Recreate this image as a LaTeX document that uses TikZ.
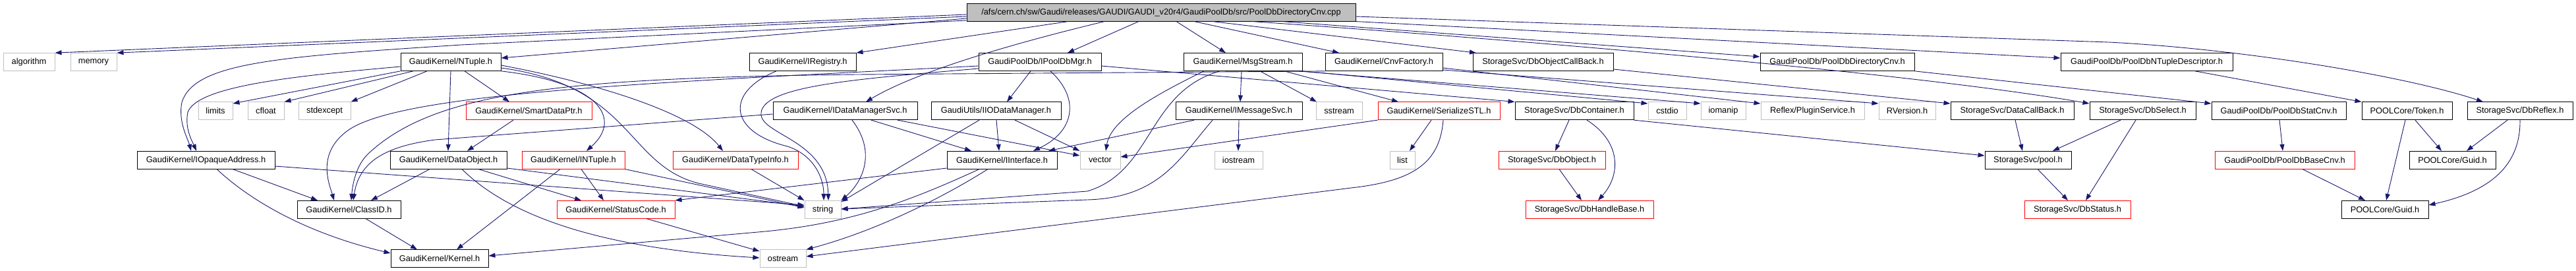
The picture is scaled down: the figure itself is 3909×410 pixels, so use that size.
\documentclass[tikz,border=0pt]{standalone}
\usepackage{fontspec}
\setmainfont{Liberation Sans}
\usetikzlibrary{arrows.meta}
\definecolor{edgeblue}{HTML}{191970}
\definecolor{greyseventyfive}{HTML}{BFBFBF}
\tikzset{
  box/.style={draw, line width=1pt, minimum height=26.7pt, inner sep=0pt, anchor=center,
              font=\fontsize{12.8}{14}\selectfont, text=black},
  bk/.style={box, draw=black},
  rd/.style={box, draw=red},
  gy/.style={box, draw=greyseventyfive},
  lnk/.style={draw=edgeblue, line width=0.9pt, -{Triangle[length=10pt,width=7pt]}, fill=none},
}
\begin{document}
\begin{tikzpicture}[x=1pt,y=-1pt]
\useasboundingbox (0,0) rectangle (3909,410);
% root
\node[bk, fill=greyseventyfive, minimum width=590pt] (root) at (1762,18.7) {/afs/cern.ch/sw/Gaudi/releases/GAUDI/GAUDI\_v20r4/GaudiPoolDb/src/PoolDbDirectoryCnv.cpp};
% row 1
\node[gy, minimum width=78pt] (algorithm) at (44,94) {algorithm};
\node[gy, minimum width=70pt] (memory) at (142,94) {memory};
\node[bk, minimum width=152pt] (ntuple) at (684,94) {GaudiKernel/NTuple.h};
\node[bk, minimum width=162pt] (iregistry) at (1218,94) {GaudiKernel/IRegistry.h};
\node[bk, minimum width=186pt] (ipooldbmgr) at (1578,94) {GaudiPoolDb/IPoolDbMgr.h};
\node[bk, minimum width=180pt] (msgstream) at (1886,94) {GaudiKernel/MsgStream.h};
\node[bk, minimum width=178pt] (cnvfactory) at (2100,94) {GaudiKernel/CnvFactory.h};
\node[bk, minimum width=213pt] (dbobjcb) at (2341.5,94) {StorageSvc/DbObjectCallBack.h};
\node[bk, minimum width=234pt] (dircnv) at (2788,94) {GaudiPoolDb/PoolDbDirectoryCnv.h};
\node[bk, minimum width=261pt] (ntdesc) at (3257.5,94) {GaudiPoolDb/PoolDbNTupleDescriptor.h};
% row 2
\node[gy, minimum width=52pt] (limits) at (327,168.3) {limits};
\node[gy, minimum width=55pt] (cfloat) at (403.5,168.3) {cfloat};
\node[gy, minimum width=79pt] (stdexcept) at (492.5,168.3) {stdexcept};
\node[rd, minimum width=191pt] (smartptr) at (802.5,168.3) {GaudiKernel/SmartDataPtr.h};
\node[bk, minimum width=219pt] (idatamgr) at (1282.5,168.3) {GaudiKernel/IDataManagerSvc.h};
\node[bk, minimum width=197pt] (iiodata) at (1511.5,168.3) {GaudiUtils/IIODataManager.h};
\node[bk, minimum width=192pt] (imsgsvc) at (1880,168.3) {GaudiKernel/IMessageSvc.h};
\node[gy, minimum width=70pt] (sstream) at (2032,168.3) {sstream};
\node[rd, minimum width=185pt] (serial) at (2183.5,168.3) {GaudiKernel/SerializeSTL.h};
\node[bk, minimum width=180pt] (dbcont) at (2389,168.3) {StorageSvc/DbContainer.h};
\node[gy, minimum width=58pt] (cstdio) at (2530,168.3) {cstdio};
\node[gy, minimum width=68pt] (iomanip) at (2615,168.3) {iomanip};
\node[gy, minimum width=157pt] (plugin) at (2750.5,168.3) {Reflex/PluginService.h};
\node[gy, minimum width=86pt] (rversion) at (2894,168.3) {RVersion.h};
\node[bk, minimum width=187pt] (datacb) at (3053.5,168.3) {StorageSvc/DataCallBack.h};
\node[bk, minimum width=161pt] (dbselect) at (3251.5,168.3) {StorageSvc/DbSelect.h};
\node[bk, minimum width=204pt] (statcnv) at (3458,168.3) {GaudiPoolDb/PoolDbStatCnv.h};
\node[bk, minimum width=137pt] (token) at (3652.5,168.3) {POOLCore/Token.h};
\node[bk, minimum width=160pt] (dbreflex) at (3824,168.3) {StorageSvc/DbReflex.h};
% row 3
\node[bk, minimum width=209pt] (iopaque) at (312.5,242.7) {GaudiKernel/IOpaqueAddress.h};
\node[bk, minimum width=177pt] (dataobj) at (680.5,242.7) {GaudiKernel/DataObject.h};
\node[rd, minimum width=156pt] (intuple) at (870,242.7) {GaudiKernel/INTuple.h};
\node[rd, minimum width=190pt] (dtinfo) at (1116,242.7) {GaudiKernel/DataTypeInfo.h};
\node[bk, minimum width=167pt] (iinterface) at (1520.5,242.7) {GaudiKernel/IInterface.h};
\node[gy, minimum width=61pt] (vector) at (1669.5,242.7) {vector};
\node[gy, minimum width=73pt] (iostream) at (1879.5,242.7) {iostream};
\node[gy, minimum width=38pt] (list) at (2128,242.7) {list};
\node[rd, minimum width=162pt] (dbobject) at (2355,242.7) {StorageSvc/DbObject.h};
\node[bk, minimum width=131pt] (pool) at (3077.5,242.7) {StorageSvc/pool.h};
\node[rd, minimum width=212pt] (basecnv) at (3467,242.7) {GaudiPoolDb/PoolDbBaseCnv.h};
\node[bk, minimum width=131pt] (guidA) at (3721.5,242.7) {POOLCore/Guid.h};
% row 4
\node[bk, minimum width=157pt] (classid) at (529.5,317.8) {GaudiKernel/ClassID.h};
\node[rd, minimum width=179pt] (statuscode) at (934.5,317.8) {GaudiKernel/StatusCode.h};
\node[gy, minimum width=55pt] (string) at (1248.5,317.8) {string};
\node[rd, minimum width=194pt] (dbhandle) at (2412,317.8) {StorageSvc/DbHandleBase.h};
\node[rd, minimum width=161pt] (dbstatus) at (3152.5,317.8) {StorageSvc/DbStatus.h};
\node[bk, minimum width=132pt] (guidB) at (3619,317.8) {POOLCore/Guid.h};
% row 5
\node[bk, minimum width=148pt] (kernel) at (667,392.3) {GaudiKernel/Kernel.h};
\node[gy, minimum width=70pt] (ostream) at (1188,392.3) {ostream};

% ---- edges from root
\draw[lnk] (root.west |- 0,22) -- (algorithm.north east);
\draw[lnk] (root.west |- 0,25) -- (memory.north east);
\draw[lnk] (root.west |- 0,28) -- (ntuple.east |- 0,88);
\draw[lnk] (root.west |- 0,31) -- (700,68) .. controls (420,86) and (295,95) .. (276,155) .. controls (270,185) and (285,210) .. (iopaque.north -| 290,0);
\draw[lnk] (root.south -| 1621,0) -- (iregistry.north east);
\draw[lnk] (root.south -| 1676,0) .. controls (1500,75) and (1380,115) .. (idatamgr.north -| 1314,0);
\draw[lnk] (root.south -| 1728,0) -- (ipooldbmgr.north -| 1620,0);
\draw[lnk] (root.south -| 1785,0) -- (msgstream.north -| 1860,0);
\draw[lnk] (root.south -| 1812,0) -- (cnvfactory.north -| 2032,0);
\draw[lnk] (root.south -| 1840,0) -- (dbobjcb.north -| 2240,0);
\draw[lnk] (root.south -| 1900,0) .. controls (2300,60) and (2900,110) .. (dbselect.west |- 0,157);
\draw[lnk] (root.south -| 1945,0) -- (dircnv.west |- 0,86);
\draw[lnk] (root.south east) -- (ntdesc.west |- 0,88);
\draw[lnk] (root.east |- 0,25) -- (3200,64) .. controls (3400,74) and (3650,115) .. (dbreflex.north -| 3768,0);

% ---- NTuple
\draw[lnk] (ntuple.west |- 0,101) .. controls (450,115) and (300,130) .. (285,170) .. controls (280,195) and (292,215) .. (iopaque.north -| 298,0);
\draw[lnk] (ntuple.south west) -- (limits.east |- 0,157);
\draw[lnk] (ntuple.south -| 627,0) -- (cfloat.north east);
\draw[lnk] (ntuple.south -| 648,0) -- (stdexcept.north east);
\draw[lnk] (ntuple.south -| 705,0) -- (smartptr.north -| 773,0);
\draw[lnk] (ntuple.south -| 684,0) -- (dataobj.north -| 680,0);
\draw[lnk] (ntuple.south east) .. controls (910,125) and (945,180) .. (intuple.north -| 890,0);
\draw[lnk] (ntuple.east |- 0,99) .. controls (900,125) and (1050,170) .. (dtinfo.north -| 1097,0);
\draw[lnk] (ntuple.east |- 0,103) .. controls (960,130) and (950,250) .. (1060,278) -- (string.west |- 0,313);

% ---- IRegistry
\draw[lnk] (iregistry.south -| 1178,0) .. controls (1100,140) and (1105,200) .. (1195,222) .. controls (1235,235) and (1250,270) .. (string.north -| 1250,0);

% ---- IPoolDbMgr
\draw[lnk] (ipooldbmgr.south -| 1564,0) -- (iiodata.north -| 1528,0);
\draw[lnk] (ipooldbmgr.south -| 1594,0) .. controls (1640,150) and (1630,200) .. (iinterface.north -| 1568,0);
\draw[lnk] (ipooldbmgr.east |- 0,100) -- (dbcont.north west);
\draw[lnk] (ipooldbmgr.west |- 0,100) .. controls (1000,125) and (600,140) .. (525,200) .. controls (480,235) and (500,280) .. (classid.north -| 507,0);
\draw[lnk] (ipooldbmgr.west |- 0,104) .. controls (1300,120) and (1150,130) .. (1155,175) .. controls (1160,205) and (1255,215) .. (string.north -| 1257,0);

% ---- CnvFactory
\draw[lnk] (cnvfactory.south west) -- (1300,113) .. controls (850,118) and (660,140) .. (560,232) .. controls (540,250) and (535,280) .. (classid.north -| 533,0);
\draw[lnk] (cnvfactory.east |- 0,103) -- (plugin.west |- 0,157);
\draw[lnk] (cnvfactory.east |- 0,106) -- (rversion.west |- 0,157);

% ---- DbObjectCallBack
\draw[lnk] (dbobjcb.east |- 0,105) -- (datacb.west |- 0,157);

% ---- IDataManagerSvc
\draw[lnk] (idatamgr.west |- 0,173) -- (660,212) .. controls (585,222) and (545,245) .. (classid.north -| 536,0);
\draw[lnk] (idatamgr.south -| 1322,0) -- (iinterface.north -| 1474,0);
\draw[lnk] (idatamgr.south -| 1362,0) -- (vector.west |- 0,236);
\draw[lnk] (idatamgr.south -| 1293,0) .. controls (1330,230) and (1310,275) .. (string.north east);

% ---- IIODataManager
\draw[lnk] (iiodata.south -| 1512,0) -- (iinterface.north -| 1516,0);
\draw[lnk] (iiodata.south -| 1540,0) -- (vector.north west);
\draw[lnk] (iiodata.south -| 1486,0) -- (string.east |- 0,306);

% ---- MsgStream
\draw[lnk] (msgstream.south -| 1884,0) -- (imsgsvc.north -| 1882,0);
\draw[lnk] (msgstream.south -| 1827,0) .. controls (1740,150) and (1685,185) .. (vector.north -| 1678,0);
\draw[lnk] (msgstream.south -| 1851,0) .. controls (1740,140) and (1750,260) .. (1650,290) -- (string.east |- 0,317);
\draw[lnk] (msgstream.south -| 1912,0) -- (sstream.north -| 1998,0);
\draw[lnk] (msgstream.south -| 1949,0) -- (serial.north -| 2122,0);
\draw[lnk] (msgstream.south east) -- (cstdio.west |- 0,157);
\draw[lnk] (msgstream.south -| 1970,0) -- (iomanip.west |- 0,157);

% ---- IMessageSvc
\draw[lnk] (imsgsvc.south -| 1812,0) -- (iinterface.north -| 1591,0);
\draw[lnk] (imsgsvc.south -| 1880,0) -- (iostream.north -| 1879,0);
\draw[lnk] (imsgsvc.south -| 1840,0) .. controls (1790,240) and (1760,300) .. (1650,303) -- (string.east |- 0,317);

% ---- SerializeSTL
\draw[lnk] (serial.south -| 2172,0) -- (list.north -| 2139,0);
\draw[lnk] (serial.south west) -- (vector.east |- 0,238);
\draw[lnk] (serial.south -| 2190,0) .. controls (2185,250) and (2140,275) .. (2050,285) -- (ostream.east |- 0,389);

% ---- IInterface
\draw[lnk] (iinterface.west |- 0,255) -- (statuscode.north east);
\draw[lnk] (iinterface.south -| 1486,0) .. controls (1380,305) and (1290,340) .. (1150,352) -- (kernel.east |- 0,388);
\draw[lnk] (iinterface.south -| 1499,0) .. controls (1430,300) and (1330,350) .. (ostream.north east);

% ---- row 3 sources
\draw[lnk] (iopaque.south -| 353,0) -- (classid.north -| 482,0);
\draw[lnk] (iopaque.south -| 329,0) .. controls (370,295) and (450,350) .. (kernel.west |- 0,384);
\draw[lnk] (iopaque.east |- 0,252) -- (string.west |- 0,311);
\draw[lnk] (dataobj.south -| 652,0) -- (classid.north -| 563,0);
\draw[lnk] (dataobj.south -| 726,0) -- (statuscode.north -| 882,0);
\draw[lnk] (dataobj.east |- 0,255) -- (string.west |- 0,313);
\draw[lnk] (dataobj.south -| 701,0) .. controls (760,315) and (880,375) .. (ostream.west |- 0,391);
\draw[lnk] (smartptr.south -| 779,0) -- (dataobj.north -| 709,0);
\draw[lnk] (intuple.south -| 882,0) -- (statuscode.north -| 916,0);
\draw[lnk] (intuple.south -| 850,0) -- (kernel.north -| 693,0);
\draw[lnk] (intuple.south east) -- (string.west |- 0,315);
\draw[lnk] (dtinfo.south -| 1140,0) -- (string.north west);
\draw[lnk] (classid.south -| 555,0) -- (kernel.north -| 633,0);
\draw[lnk] (statuscode.south -| 981,0) -- (ostream.west |- 0,381);

% ---- Storage side
\draw[lnk] (dbcont.south -| 2381,0) -- (dbobject.north -| 2360,0);
\draw[lnk] (dbcont.south -| 2408,0) .. controls (2460,215) and (2460,265) .. (dbhandle.north -| 2425,0);
\draw[lnk] (dbcont.south east) -- (pool.west |- 0,236);
\draw[lnk] (dbobject.south -| 2366,0) -- (dbhandle.north -| 2400,0);
\draw[lnk] (datacb.south -| 3058,0) -- (pool.north -| 3069,0);
\draw[lnk] (dbselect.south -| 3218,0) -- (pool.north -| 3115,0);
\draw[lnk] (dbselect.south -| 3241,0) -- (dbstatus.north -| 3165,0);
\draw[lnk] (pool.south -| 3092,0) -- (dbstatus.north -| 3138,0);
\draw[lnk] (dircnv.south east) -- (statcnv.west |- 0,157);
\draw[lnk] (ntdesc.south -| 3331,0) -- (token.north west);
\draw[lnk] (statcnv.south -| 3459,0) -- (basecnv.north -| 3464,0);
\draw[lnk] (basecnv.south -| 3494,0) -- (guidB.north -| 3589,0);
\draw[lnk] (token.south -| 3650,0) -- (guidB.north -| 3621,0);
\draw[lnk] (token.south -| 3665,0) -- (guidA.north -| 3705,0);
\draw[lnk] (dbreflex.south -| 3805,0) -- (guidA.north -| 3743,0);
\draw[lnk] (dbreflex.south -| 3824,0) .. controls (3825,250) and (3780,290) .. (guidB.east |- 0,311);
\end{tikzpicture}
\end{document}
